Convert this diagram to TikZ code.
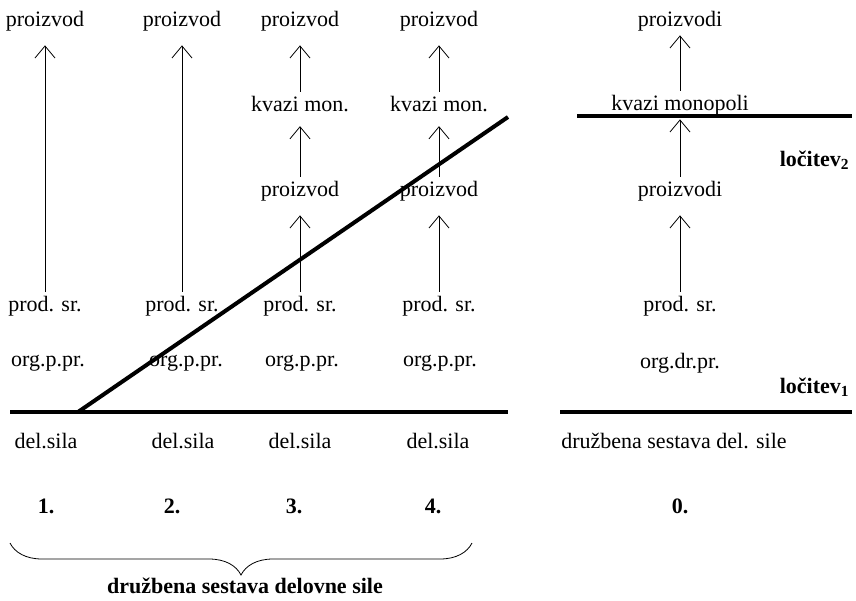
\documentclass[tikz,border=0pt]{standalone}
\usepackage{fontspec}
\setmainfont{Liberation Serif}
\usetikzlibrary{arrows.meta,decorations.pathreplacing}

\begin{document}
\begin{tikzpicture}[x=0.5pt,y=-0.5pt,
    every node/.style={inner sep=1pt, font=\fontsize{11}{13}\selectfont},
    up/.style={-{Straight Barb[length=6pt,width=10pt]}, thin, shorten >=6pt, shorten <=1pt},
    sep/.style={line width=2pt},
    num/.style={font=\bfseries\fontsize{11}{13}\selectfont}]
  \useasboundingbox (0,0) rectangle (856,600);

  % column 1
  \node (top1) at (45,21) {proizvod};
  \node (pr1) at (45,306) {prod. sr.};
  \node (o1) at (48,363) {org.p.pr.};
  \node (d1) at (46,441) {del.sila};
  \node[num] (n1) at (46,506) {1.};
  \draw[up] (pr1) -- (top1);

  % column 2
  \node (top2) at (182,21) {proizvod};
  \node (pr2) at (182,306) {prod. sr.};
  \node (o2) at (186,363) {org.p.pr.};
  \node (d2) at (183,441) {del.sila};
  \node[num] (n2) at (172,506) {2.};
  \draw[up] (pr2) -- (top2);

  % column 3
  \node (top3) at (300,21) {proizvod};
  \node (kv3) at (300,104) {kvazi mon.};
  \node (mid3) at (300,191) {proizvod};
  \node (pr3) at (300,306) {prod. sr.};
  \node (o3) at (302,363) {org.p.pr.};
  \node (d3) at (300,441) {del.sila};
  \node[num] (n3) at (294,506) {3.};
  \draw[up] (kv3) -- (top3);
  \draw[up] (mid3) -- (kv3);
  \draw[up] (pr3) -- (mid3);

  % column 4
  \node (top4) at (439,21) {proizvod};
  \node (kv4) at (439,104) {kvazi mon.};
  \node (mid4) at (439,191) {proizvod};
  \node (pr4) at (439,306) {prod. sr.};
  \node (o4) at (440,363) {org.p.pr.};
  \node (d4) at (438,441) {del.sila};
  \node[num] (n4) at (433,506) {4.};
  \draw[up] (kv4) -- (top4);
  \draw[up] (mid4) -- (kv4);
  \draw[up] (pr4) -- (mid4);

  % column 0
  \node (top0) at (680,21) {proizvodi};
  \node (kv0) at (680,105) {kvazi monopoli};
  \node (mid0) at (680,191) {proizvodi};
  \node (pr0) at (680,306) {prod. sr.};
  \node (o0) at (680,363) {org.dr.pr.};
  \node (d0) at (674,441) {družbena sestava del. sile};
  \node[num] (n0) at (680,506) {0.};
  \draw[up, shorten >=1pt] (kv0) -- (top0);
  \draw[up, shorten >=1pt] (mid0) -- (kv0);
  \draw[up] (pr0) -- (mid0);

  % separating lines
  \coordinate (a1) at (10,412);
  \coordinate (b1) at (508,412);
  \coordinate (c1) at (560,412);
  \coordinate (e1) at (852,412);
  \coordinate (c2) at (577,116);
  \coordinate (e2) at (852,116);
  \coordinate (s1) at (78,412);
  \coordinate (s2) at (508,117);
  \draw[sep] (a1) -- (b1);
  \draw[sep] (c1) -- (e1);
  \draw[sep] (c2) -- (e2);
  \draw[sep] (s1) -- (s2);
  \node[num, anchor=east] (l1) at (852,387) {ločitev\textsubscript{1}};
  \node[num, anchor=east] (l2) at (852,160) {ločitev\textsubscript{2}};

  % brace
  \coordinate (br1) at (10,543);
  \coordinate (br2) at (472,543);
  \draw[decorate, decoration={brace, mirror, amplitude=16pt}] (br1) -- (br2);
  \node[num] (all) at (245,586) {družbena sestava delovne sile};
\end{tikzpicture}
\end{document}
